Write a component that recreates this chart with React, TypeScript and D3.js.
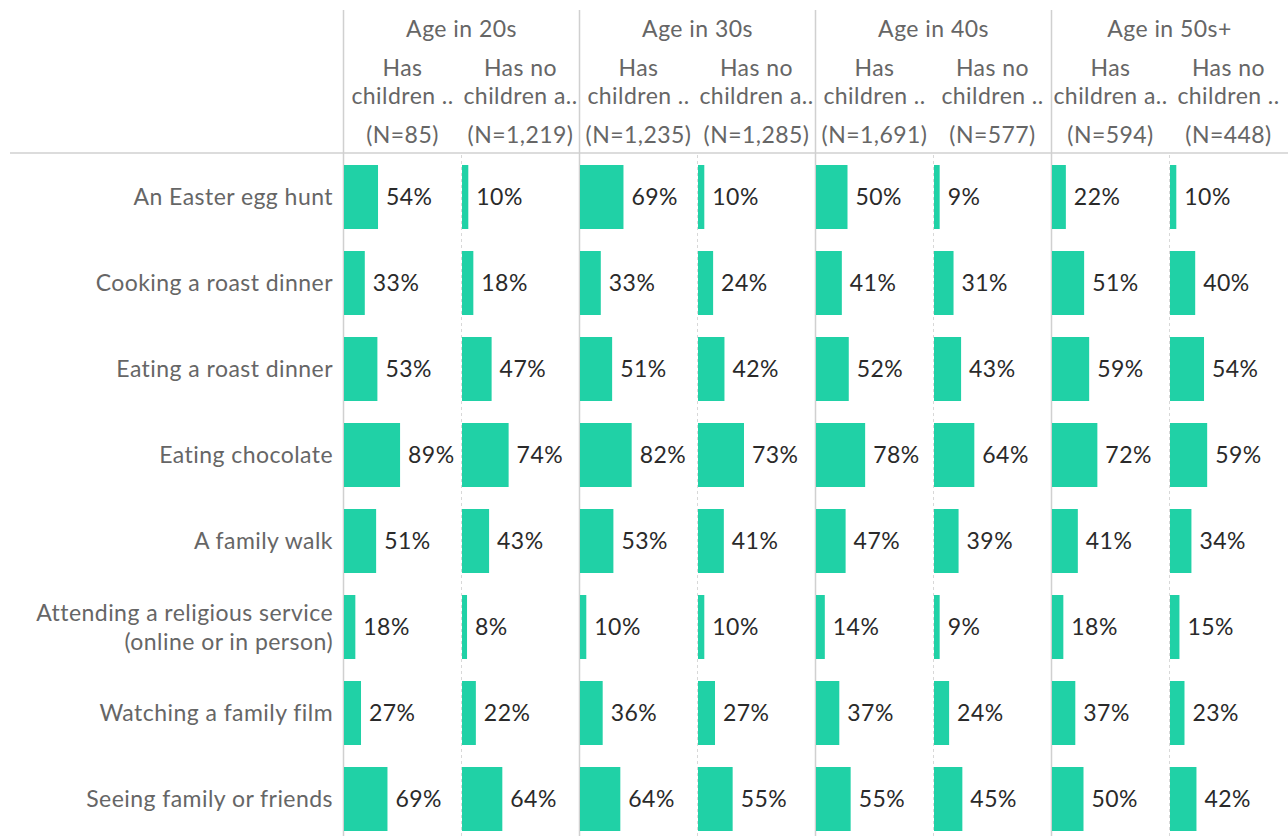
import React from 'react';
import * as d3 from 'd3';

const categories = [
  'An Easter egg hunt',
  'Cooking a roast dinner',
  'Eating a roast dinner',
  'Eating chocolate',
  'A family walk',
  'Attending a religious service\n(online or in person)',
  'Watching a family film',
  'Seeing family or friends',
];

const groups = ['Age in 20s', 'Age in 30s', 'Age in 40s', 'Age in 50s+'];

// sub headers per column (2 per group)
const subTop = ['Has', 'Has no', 'Has', 'Has no', 'Has', 'Has no', 'Has', 'Has no'];
const subBottom = [
  'children ..', 'children a..',
  'children ..', 'children a..',
  'children ..', 'children ..',
  'children a..', 'children ..',
];
const sampleSizes = ['(N=85)', '(N=1,219)', '(N=1,235)', '(N=1,285)', '(N=1,691)', '(N=577)', '(N=594)', '(N=448)'];

// percentages, one array per column, in category order
const col20sHas = [54, 33, 53, 89, 51, 18, 27, 69];
const col20sNo = [10, 18, 47, 74, 43, 8, 22, 64];
const col30sHas = [69, 33, 51, 82, 53, 10, 36, 64];
const col30sNo = [10, 24, 42, 73, 41, 10, 27, 55];
const col40sHas = [50, 41, 52, 78, 47, 14, 37, 55];
const col40sNo = [9, 31, 43, 64, 39, 9, 24, 45];
const col50sHas = [22, 51, 59, 72, 41, 18, 37, 50];
const col50sNo = [10, 40, 54, 59, 34, 15, 23, 42];

const columns = [col20sHas, col20sNo, col30sHas, col30sNo, col40sHas, col40sNo, col50sHas, col50sNo];

const W = 1288;
const H = 836;
const left = 343.5;
const subW = 118;
const headerY = 153;
const font = 'Lato, "Noto Sans", sans-serif';
const fs = 23;
const ls = 0.45;
const barColor = '#20d1a6';

export default function App() {
  const y = d3.scaleBand<string>()
    .domain(categories)
    .range([154, 154 + 86 * categories.length])
    .paddingInner(0.256)
    .paddingOuter(0.128);

  const x = d3.scaleLinear().domain([0, 100]).range([0, 63]);

  const colX = (i: number) => left + i * subW;

  return (
    <svg width={W} height={H} style={{ position: 'absolute', left: 0, top: 0, background: '#fff' }}>
      {/* header separator */}
      <line x1={10} x2={W} y1={headerY} y2={headerY} stroke="#dcdcdc" strokeWidth={2} />

      {/* group lines */}
      {groups.map((g, gi) => (
        <line key={g} x1={colX(gi * 2)} x2={colX(gi * 2)} y1={10} y2={H} stroke="#d0d0d0" strokeWidth={1.5} />
      ))}
      {/* sub column dotted lines */}
      {groups.map((g, gi) => (
        <line key={g + 'd'} x1={colX(gi * 2 + 1)} x2={colX(gi * 2 + 1)} y1={headerY + 2} y2={H}
          stroke="#d8d8d8" strokeWidth={1} strokeDasharray="3,3" />
      ))}

      {/* group headers */}
      {groups.map((g, gi) => (
        <text key={g + 't'} x={colX(gi * 2) + subW} y={37} textAnchor="middle"
          fontFamily={font} fontSize={fs} letterSpacing={ls} fill="#666">{g}</text>
      ))}

      {/* sub headers */}
      {columns.map((_, ci) => {
        const cx = colX(ci) + subW / 2;
        return (
          <g key={'h' + ci} fontFamily={font} fontSize={fs} letterSpacing={ls} fill="#666" textAnchor="middle">
            <text x={cx} y={76}>{subTop[ci]}</text>
            <text x={cx} y={104}>{subBottom[ci]}</text>
            <text x={cx} y={143}>{sampleSizes[ci]}</text>
          </g>
        );
      })}

      {/* row labels */}
      {categories.map(c => {
        const lines = c.split('\n');
        const cy = (y(c) ?? 0) + y.bandwidth() / 2;
        const lh = 29;
        return (
          <text key={c} x={333} textAnchor="end" fontFamily={font} fontSize={fs} letterSpacing={ls} fill="#666">
            {lines.map((l, li) => (
              <tspan key={li} x={333} y={cy + 8 + (li - (lines.length - 1) / 2) * lh}>{l}</tspan>
            ))}
          </text>
        );
      })}

      {/* bars and values */}
      {columns.map((vals, ci) => (
        <g key={'c' + ci} transform={`translate(${colX(ci) + 0.5},0)`}>
          {vals.map((v, ri) => {
            const c = categories[ri];
            const by = y(c) ?? 0;
            const bw = Math.max(x(v), 5);
            return (
              <g key={ri}>
                <rect x={0} y={by} width={bw} height={y.bandwidth()} fill={barColor} />
                <text x={bw + 8} y={by + y.bandwidth() / 2 + 8} fontFamily={font} fontSize={fs}
                  letterSpacing={ls} fill="#2a2a2a">
                  {v}%
                </text>
              </g>
            );
          })}
        </g>
      ))}
    </svg>
  );
}
